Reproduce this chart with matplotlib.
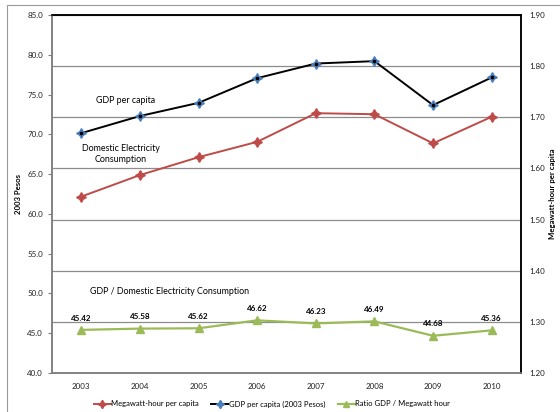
import matplotlib
matplotlib.use("Agg")
import matplotlib.pyplot as plt
from matplotlib.patches import Rectangle

plt.rcParams["font.family"] = ["Lato", "DejaVu Sans"]

years = ["2003", "2004", "2005", "2006", "2007", "2008", "2009", "2010"]
mwh_per_capita = [1.545, 1.587, 1.622, 1.652, 1.708, 1.706, 1.649, 1.701]
gdp_per_capita = [70.15, 72.30, 73.96, 77.06, 78.90, 79.20, 73.67, 77.15]
ratio_gdp_mwh = [45.42, 45.58, 45.62, 46.62, 46.23, 46.49, 44.68, 45.36]

RED = "#be4b48"
BLUE = "#4a7ebb"
GREEN = "#9bbb59"
x = list(range(len(years)))

fig = plt.figure(figsize=(5.6, 4.12), dpi=100)
ax = fig.add_axes([52 / 560, 1 - 373 / 412, 469 / 560, 358 / 412])
ax2 = ax.twinx()
ax.set_zorder(ax2.get_zorder() + 1)
ax.patch.set_visible(False)

# chart area border
fig.patches.append(Rectangle((7 / 560, -0.1), 1.2, 1.1 - 5 / 412,
                             transform=fig.transFigure, fill=False,
                             edgecolor="#9a9a9a", lw=0.8))

# right axis: megawatt-hour per capita, carries the gridlines
ax2.plot(x, mwh_per_capita, color=RED, lw=1.4, zorder=3)
ax2.plot(x, mwh_per_capita, ls="none", marker=(4, 1, 0), ms=7,
         color=RED, zorder=4)
ax2.set_ylim(1.20, 1.90)
ax2.set_yticks([1.20, 1.30, 1.40, 1.50, 1.60, 1.70, 1.80, 1.90])
ax2.set_yticklabels([f"{v:.2f}" for v in ax2.get_yticks()])
ax2.yaxis.grid(True, color="#8c8c8c", lw=0.9)
ax2.set_axisbelow(True)
ax2.tick_params(axis="y", length=0, labelsize=5.8, pad=6, labelcolor="#222222")
ax2.set_ylabel("Megawatt-hour per capita", fontsize=5.6, fontweight="bold",
               labelpad=3)

# left axis: GDP per capita and the ratio
ax.plot(x, gdp_per_capita, color="black", lw=1.4, zorder=3)
ax.plot(x, gdp_per_capita, ls="none", marker=(4, 1, 0), ms=7,
        color=BLUE, zorder=4)
ax.plot(x, gdp_per_capita, ls="none", marker="o", ms=1.6,
        color="black", zorder=5)
ax.plot(x, ratio_gdp_mwh, color=GREEN, lw=1.6, marker="^", ms=5.5,
        zorder=3)
for xi, v in zip(x, ratio_gdp_mwh):
    ax.annotate(f"{v:.2f}", (xi, v), xytext=(0, 6), textcoords="offset points",
                ha="center", va="bottom", fontsize=5.8, fontweight="bold")

ax.set_xlim(-0.5, len(years) - 0.5)
ax.set_ylim(40, 85)
ax.set_yticks(range(40, 86, 5))
ax.set_yticklabels([f"{v:.1f}" for v in range(40, 86, 5)])
ax.set_xticks(x)
ax.set_xticklabels(years)
ax.tick_params(axis="y", length=3, color="#7f7f7f", labelsize=5.8,
               labelcolor="#222222")
ax.tick_params(axis="x", length=0, labelsize=5.8, pad=7, labelcolor="#222222")
ax.set_ylabel("2003 Pesos", fontsize=5.6, fontweight="bold", labelpad=4)

for a in (ax, ax2):
    a.spines["left"].set_color("#7f7f7f")
    a.spines["bottom"].set_color("#7f7f7f")
    a.spines["right"].set_color("black")
    a.spines["top"].set_color("black")
    for s in a.spines.values():
        s.set_linewidth(1.1)

ax.text(0.76, 74.2, "GDP per capita", ha="center", va="center", fontsize=6.4)
ax.text(0.68, 67.5, "Domestic Electricity\nConsumption", ha="center",
        va="center", fontsize=6.4, linespacing=1.35)
ax.text(1.51, 50.3, "GDP / Domestic Electricity Consumption", ha="center",
        va="center", fontsize=6.4)

# legend along the bottom
handles = [
    plt.Line2D([], [], color=RED, lw=1.4, marker=(4, 1, 0), ms=6),
    plt.Line2D([], [], color="black", lw=1.4, marker=(4, 1, 0), ms=6,
               mfc=BLUE, mec=BLUE),
    plt.Line2D([], [], color=GREEN, lw=1.6, marker="^", ms=5),
]
fig.legend(handles, ["Megawatt-hour per capita", "GDP per capita (2003 Pesos)",
                     "Ratio GDP / Megawatt hour"],
           loc="center", bbox_to_anchor=(272 / 560, 1 - 404 / 412), ncol=3,
           frameon=False, fontsize=5.5, handlelength=2.2, handletextpad=0.1,
           columnspacing=1.6)

fig.savefig("out.png", dpi=100)
